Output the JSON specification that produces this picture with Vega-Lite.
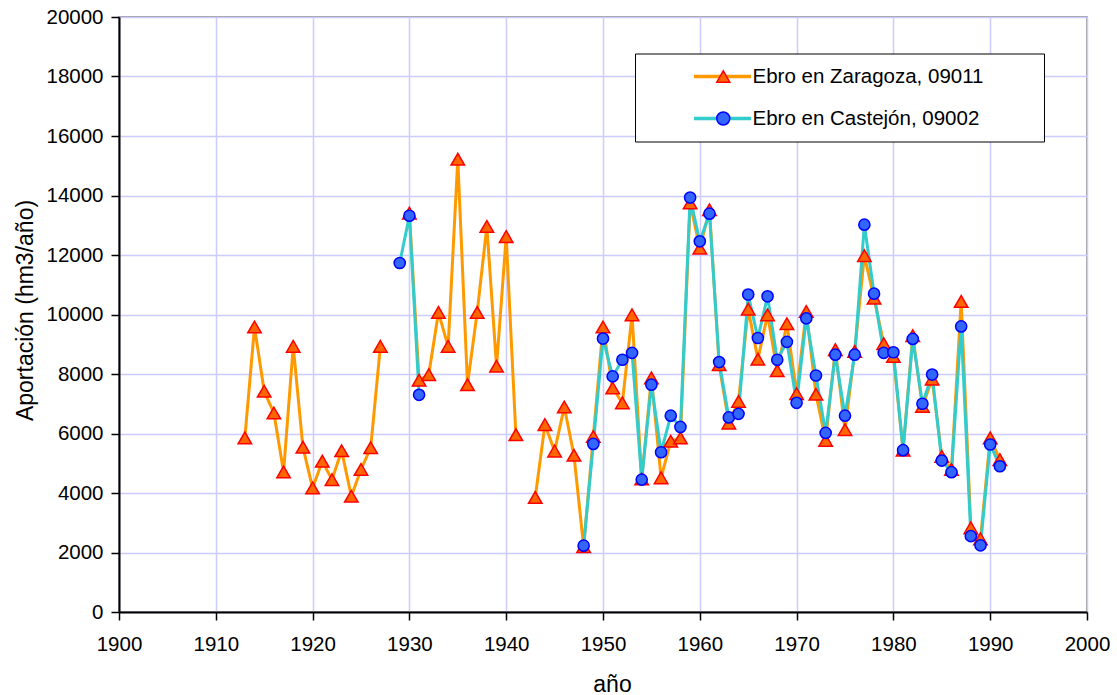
{
  "$schema": "https://vega.github.io/schema/vega-lite/v6.json",
  "autosize": "none",
  "padding": {"left": 119, "top": 17, "right": 30, "bottom": 83},
  "width": 968,
  "height": 595,
  "background": "white",
  "datasets": {
    "flows": [
      {"year": 1913, "station": "Ebro en Zaragoza, 09011", "value": 5850},
      {"year": 1914, "station": "Ebro en Zaragoza, 09011", "value": 9580},
      {"year": 1915, "station": "Ebro en Zaragoza, 09011", "value": 7420},
      {"year": 1916, "station": "Ebro en Zaragoza, 09011", "value": 6690},
      {"year": 1917, "station": "Ebro en Zaragoza, 09011", "value": 4710},
      {"year": 1918, "station": "Ebro en Zaragoza, 09011", "value": 8930},
      {"year": 1919, "station": "Ebro en Zaragoza, 09011", "value": 5540},
      {"year": 1920, "station": "Ebro en Zaragoza, 09011", "value": 4170},
      {"year": 1921, "station": "Ebro en Zaragoza, 09011", "value": 5070},
      {"year": 1922, "station": "Ebro en Zaragoza, 09011", "value": 4450},
      {"year": 1923, "station": "Ebro en Zaragoza, 09011", "value": 5420},
      {"year": 1924, "station": "Ebro en Zaragoza, 09011", "value": 3890},
      {"year": 1925, "station": "Ebro en Zaragoza, 09011", "value": 4790},
      {"year": 1926, "station": "Ebro en Zaragoza, 09011", "value": 5520},
      {"year": 1927, "station": "Ebro en Zaragoza, 09011", "value": 8930},
      {"year": 1928, "station": "Ebro en Zaragoza, 09011", "value": null},
      {"year": 1930, "station": "Ebro en Zaragoza, 09011", "value": 13410},
      {"year": 1931, "station": "Ebro en Zaragoza, 09011", "value": 7790},
      {"year": 1932, "station": "Ebro en Zaragoza, 09011", "value": 7980},
      {"year": 1933, "station": "Ebro en Zaragoza, 09011", "value": 10070},
      {"year": 1934, "station": "Ebro en Zaragoza, 09011", "value": 8930},
      {"year": 1935, "station": "Ebro en Zaragoza, 09011", "value": 15220},
      {"year": 1936, "station": "Ebro en Zaragoza, 09011", "value": 7640},
      {"year": 1937, "station": "Ebro en Zaragoza, 09011", "value": 10070},
      {"year": 1938, "station": "Ebro en Zaragoza, 09011", "value": 12960},
      {"year": 1939, "station": "Ebro en Zaragoza, 09011", "value": 8260},
      {"year": 1940, "station": "Ebro en Zaragoza, 09011", "value": 12620},
      {"year": 1941, "station": "Ebro en Zaragoza, 09011", "value": 5960},
      {"year": 1942, "station": "Ebro en Zaragoza, 09011", "value": null},
      {"year": 1943, "station": "Ebro en Zaragoza, 09011", "value": 3850},
      {"year": 1944, "station": "Ebro en Zaragoza, 09011", "value": 6300},
      {"year": 1945, "station": "Ebro en Zaragoza, 09011", "value": 5410},
      {"year": 1946, "station": "Ebro en Zaragoza, 09011", "value": 6890},
      {"year": 1947, "station": "Ebro en Zaragoza, 09011", "value": 5270},
      {"year": 1948, "station": "Ebro en Zaragoza, 09011", "value": 2200},
      {"year": 1949, "station": "Ebro en Zaragoza, 09011", "value": 5900},
      {"year": 1950, "station": "Ebro en Zaragoza, 09011", "value": 9580},
      {"year": 1951, "station": "Ebro en Zaragoza, 09011", "value": 7530},
      {"year": 1952, "station": "Ebro en Zaragoza, 09011", "value": 7030},
      {"year": 1953, "station": "Ebro en Zaragoza, 09011", "value": 9990},
      {"year": 1954, "station": "Ebro en Zaragoza, 09011", "value": 4470},
      {"year": 1955, "station": "Ebro en Zaragoza, 09011", "value": 7870},
      {"year": 1956, "station": "Ebro en Zaragoza, 09011", "value": 4510},
      {"year": 1957, "station": "Ebro en Zaragoza, 09011", "value": 5740},
      {"year": 1958, "station": "Ebro en Zaragoza, 09011", "value": 5850},
      {"year": 1959, "station": "Ebro en Zaragoza, 09011", "value": 13750},
      {"year": 1960, "station": "Ebro en Zaragoza, 09011", "value": 12230},
      {"year": 1961, "station": "Ebro en Zaragoza, 09011", "value": 13520},
      {"year": 1962, "station": "Ebro en Zaragoza, 09011", "value": 8310},
      {"year": 1963, "station": "Ebro en Zaragoza, 09011", "value": 6350},
      {"year": 1964, "station": "Ebro en Zaragoza, 09011", "value": 7080},
      {"year": 1965, "station": "Ebro en Zaragoza, 09011", "value": 10180},
      {"year": 1966, "station": "Ebro en Zaragoza, 09011", "value": 8500},
      {"year": 1967, "station": "Ebro en Zaragoza, 09011", "value": 9990},
      {"year": 1968, "station": "Ebro en Zaragoza, 09011", "value": 8110},
      {"year": 1969, "station": "Ebro en Zaragoza, 09011", "value": 9690},
      {"year": 1970, "station": "Ebro en Zaragoza, 09011", "value": 7340},
      {"year": 1971, "station": "Ebro en Zaragoza, 09011", "value": 10100},
      {"year": 1972, "station": "Ebro en Zaragoza, 09011", "value": 7320},
      {"year": 1973, "station": "Ebro en Zaragoza, 09011", "value": 5770},
      {"year": 1974, "station": "Ebro en Zaragoza, 09011", "value": 8820},
      {"year": 1975, "station": "Ebro en Zaragoza, 09011", "value": 6130},
      {"year": 1976, "station": "Ebro en Zaragoza, 09011", "value": 8760},
      {"year": 1977, "station": "Ebro en Zaragoza, 09011", "value": 11980},
      {"year": 1978, "station": "Ebro en Zaragoza, 09011", "value": 10550},
      {"year": 1979, "station": "Ebro en Zaragoza, 09011", "value": 9020},
      {"year": 1980, "station": "Ebro en Zaragoza, 09011", "value": 8590},
      {"year": 1981, "station": "Ebro en Zaragoza, 09011", "value": 5440},
      {"year": 1982, "station": "Ebro en Zaragoza, 09011", "value": 9290},
      {"year": 1983, "station": "Ebro en Zaragoza, 09011", "value": 6910},
      {"year": 1984, "station": "Ebro en Zaragoza, 09011", "value": 7830},
      {"year": 1985, "station": "Ebro en Zaragoza, 09011", "value": 5230},
      {"year": 1986, "station": "Ebro en Zaragoza, 09011", "value": 4790},
      {"year": 1987, "station": "Ebro en Zaragoza, 09011", "value": 10440},
      {"year": 1988, "station": "Ebro en Zaragoza, 09011", "value": 2830},
      {"year": 1989, "station": "Ebro en Zaragoza, 09011", "value": 2460},
      {"year": 1990, "station": "Ebro en Zaragoza, 09011", "value": 5850},
      {"year": 1991, "station": "Ebro en Zaragoza, 09011", "value": 5120},
      {"year": 1929, "station": "Ebro en Castejón, 09002", "value": 11730},
      {"year": 1930, "station": "Ebro en Castejón, 09002", "value": 13320},
      {"year": 1931, "station": "Ebro en Castejón, 09002", "value": 7300},
      {"year": 1932, "station": "Ebro en Castejón, 09002", "value": null},
      {"year": 1948, "station": "Ebro en Castejón, 09002", "value": 2230},
      {"year": 1949, "station": "Ebro en Castejón, 09002", "value": 5650},
      {"year": 1950, "station": "Ebro en Castejón, 09002", "value": 9190},
      {"year": 1951, "station": "Ebro en Castejón, 09002", "value": 7920},
      {"year": 1952, "station": "Ebro en Castejón, 09002", "value": 8480},
      {"year": 1953, "station": "Ebro en Castejón, 09002", "value": 8710},
      {"year": 1954, "station": "Ebro en Castejón, 09002", "value": 4450},
      {"year": 1955, "station": "Ebro en Castejón, 09002", "value": 7640},
      {"year": 1956, "station": "Ebro en Castejón, 09002", "value": 5370},
      {"year": 1957, "station": "Ebro en Castejón, 09002", "value": 6600},
      {"year": 1958, "station": "Ebro en Castejón, 09002", "value": 6220},
      {"year": 1959, "station": "Ebro en Castejón, 09002", "value": 13930},
      {"year": 1960, "station": "Ebro en Castejón, 09002", "value": 12460},
      {"year": 1961, "station": "Ebro en Castejón, 09002", "value": 13390},
      {"year": 1962, "station": "Ebro en Castejón, 09002", "value": 8400},
      {"year": 1963, "station": "Ebro en Castejón, 09002", "value": 6540},
      {"year": 1964, "station": "Ebro en Castejón, 09002", "value": 6660},
      {"year": 1965, "station": "Ebro en Castejón, 09002", "value": 10670},
      {"year": 1966, "station": "Ebro en Castejón, 09002", "value": 9210},
      {"year": 1967, "station": "Ebro en Castejón, 09002", "value": 10610},
      {"year": 1968, "station": "Ebro en Castejón, 09002", "value": 8480},
      {"year": 1969, "station": "Ebro en Castejón, 09002", "value": 9080},
      {"year": 1970, "station": "Ebro en Castejón, 09002", "value": 7030},
      {"year": 1971, "station": "Ebro en Castejón, 09002", "value": 9870},
      {"year": 1972, "station": "Ebro en Castejón, 09002", "value": 7950},
      {"year": 1973, "station": "Ebro en Castejón, 09002", "value": 6020},
      {"year": 1974, "station": "Ebro en Castejón, 09002", "value": 8650},
      {"year": 1975, "station": "Ebro en Castejón, 09002", "value": 6600},
      {"year": 1976, "station": "Ebro en Castejón, 09002", "value": 8650},
      {"year": 1977, "station": "Ebro en Castejón, 09002", "value": 13020},
      {"year": 1978, "station": "Ebro en Castejón, 09002", "value": 10700},
      {"year": 1979, "station": "Ebro en Castejón, 09002", "value": 8710},
      {"year": 1980, "station": "Ebro en Castejón, 09002", "value": 8730},
      {"year": 1981, "station": "Ebro en Castejón, 09002", "value": 5440},
      {"year": 1982, "station": "Ebro en Castejón, 09002", "value": 9180},
      {"year": 1983, "station": "Ebro en Castejón, 09002", "value": 7000},
      {"year": 1984, "station": "Ebro en Castejón, 09002", "value": 7980},
      {"year": 1985, "station": "Ebro en Castejón, 09002", "value": 5090},
      {"year": 1986, "station": "Ebro en Castejón, 09002", "value": 4700},
      {"year": 1987, "station": "Ebro en Castejón, 09002", "value": 9600},
      {"year": 1988, "station": "Ebro en Castejón, 09002", "value": 2550},
      {"year": 1989, "station": "Ebro en Castejón, 09002", "value": 2240},
      {"year": 1990, "station": "Ebro en Castejón, 09002", "value": 5630},
      {"year": 1991, "station": "Ebro en Castejón, 09002", "value": 4900}
    ]
  },
  "data": {"name": "flows"},
  "encoding": {
    "x": {
      "field": "year", "type": "quantitative",
      "scale": {"domain": [1900, 2000], "nice": false, "zero": false},
      "axis": {
        "values": [1900, 1910, 1920, 1930, 1940, 1950, 1960, 1970, 1980, 1990, 2000],
        "format": "d",
        "labelPadding": 14,
        "labelFlush": false,
        "labelOverlap": false,
        "title": "año",
        "titleX": 493,
        "titleY": 79,
        "titleBaseline": "alphabetic",
        "titleAlign": "center"
      }
    },
    "y": {
      "field": "value", "type": "quantitative",
      "scale": {"domain": [0, 20000], "nice": false},
      "axis": {
        "values": [0, 2000, 4000, 6000, 8000, 10000, 12000, 14000, 16000, 18000, 20000],
        "format": "d",
        "labelPadding": 8,
        "labelFlush": false,
        "labelOverlap": false,
        "title": "Aportación (hm3/año)",
        "titleX": -87,
        "titleY": 293,
        "titleAngle": -90,
        "titleBaseline": "alphabetic",
        "titleAlign": "center"
      }
    }
  },
  "layer": [
    {
      "layer": [
        {
          "transform": [{"filter": "datum.station === 'Ebro en Zaragoza, 09011'"}],
          "mark": {"type": "line", "strokeWidth": 3, "invalid": "break-paths-filter-domains"},
          "encoding": {
            "color": {
              "field": "station", "type": "nominal",
              "scale": {"domain": ["Ebro en Zaragoza, 09011", "Ebro en Castejón, 09002"], "range": ["#FF9900", "#33CCCC"]},
              "legend": {
                "title": null, "orient": "none", "direction": "vertical",
                "legendX": 516, "legendY": 36.5, "padding": 12,
                "clipHeight": 22, "rowPadding": 20,
                "symbolType": "stroke", "symbolSize": 3249, "symbolStrokeWidth": 3.5,
                "symbolOffset": 45, "labelOffset": 279, "labelExpr": "''",
                "labelFontSize": 20.5, "labelLimit": 500,
                "fillColor": "white", "strokeColor": "black", "zindex": 1
              }
            }
          }
        },
        {
          "transform": [{"filter": "datum.station === 'Ebro en Castejón, 09002'"}],
          "mark": {"type": "line", "strokeWidth": 3, "invalid": "break-paths-filter-domains"},
          "encoding": {
            "color": {"field": "station", "type": "nominal"}
          }
        }
      ]
    },
    {
      "transform": [{"filter": "isValid(datum.value)"}],
      "mark": {"type": "point", "filled": true, "opacity": 1, "strokeWidth": 1.5},
      "encoding": {
        "shape": {
          "field": "station", "type": "nominal",
          "scale": {"domain": ["Ebro en Zaragoza, 09011", "Ebro en Castejón, 09002"], "range": ["triangle-up", "circle"]},
          "legend": {
            "title": null, "orient": "none", "direction": "vertical",
            "legendX": 516, "legendY": 36.5, "padding": 12,
            "clipHeight": 22, "rowPadding": 20,
            "symbolSize": 170, "symbolStrokeWidth": 1.5,
            "symbolOffset": 66, "labelOffset": 19, "labelLimit": 500,
            "labelFontSize": 20.5, "labelColor": "black",
            "zindex": 2
          }
        },
        "fill": {
          "field": "station", "type": "nominal",
          "scale": {"domain": ["Ebro en Zaragoza, 09011", "Ebro en Castejón, 09002"], "range": ["#FF6600", "#3366FF"]},
          "legend": {
            "title": null, "orient": "none", "direction": "vertical",
            "legendX": 516, "legendY": 36.5, "padding": 12,
            "clipHeight": 22, "rowPadding": 20,
            "symbolSize": 170, "symbolStrokeWidth": 1.5,
            "symbolOffset": 66, "labelOffset": 19, "labelLimit": 500,
            "labelFontSize": 20.5, "labelColor": "black",
            "zindex": 2
          }
        },
        "stroke": {
          "field": "station", "type": "nominal",
          "scale": {"domain": ["Ebro en Zaragoza, 09011", "Ebro en Castejón, 09002"], "range": ["#FF0000", "#0000FF"]},
          "legend": {
            "title": null, "orient": "none", "direction": "vertical",
            "legendX": 516, "legendY": 36.5, "padding": 12,
            "clipHeight": 22, "rowPadding": 20,
            "symbolSize": 170, "symbolStrokeWidth": 1.5,
            "symbolOffset": 66, "labelOffset": 19, "labelLimit": 500,
            "labelFontSize": 20.5, "labelColor": "black",
            "zindex": 2
          }
        },
        "size": {
          "field": "station", "type": "nominal",
          "scale": {"domain": ["Ebro en Zaragoza, 09011", "Ebro en Castejón, 09002"], "range": [182, 125]},
          "legend": null
        }
      }
    }
  ],
  "resolve": {"legend": {"color": "independent", "shape": "independent", "fill": "independent", "stroke": "independent"}},
  "config": {
    "font": "Liberation Sans",
    "view": {"stroke": "#808080", "strokeWidth": 1.5},
    "axis": {
      "labelFont": "Liberation Sans", "labelFontSize": 20.5, "labelColor": "black",
      "titleFont": "Liberation Sans", "titleFontSize": 23, "titleFontWeight": "normal", "titleColor": "black",
      "domainColor": "black", "domainWidth": 2,
      "tickColor": "black", "tickWidth": 1.5, "tickSize": 8,
      "grid": true, "gridColor": "#CCCCFF", "gridWidth": 1.5
    },
    "legend": {"labelFont": "Liberation Sans", "labelColor": "black"}
  }
}
